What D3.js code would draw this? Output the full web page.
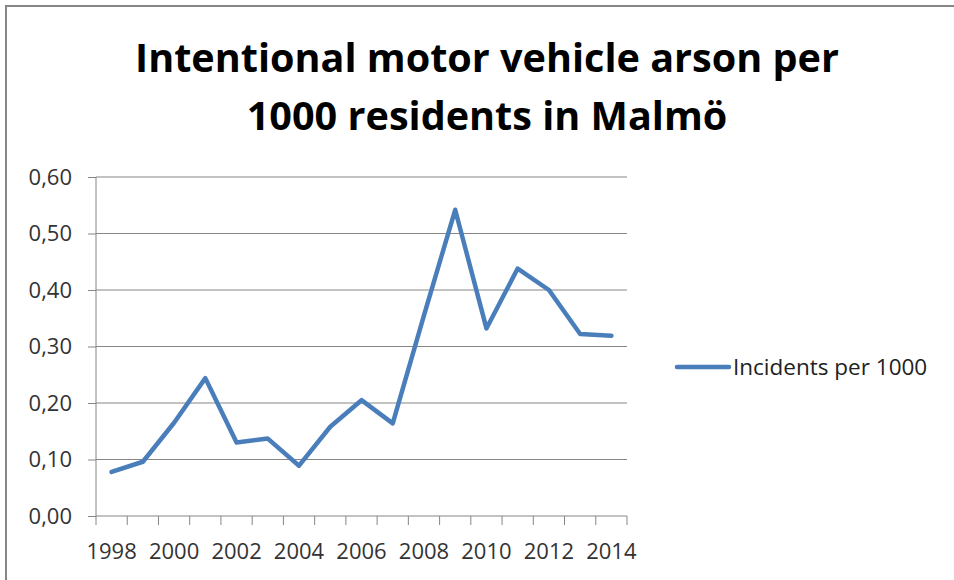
<!DOCTYPE html>
<html>
<head>
<meta charset="utf-8">
<script src="https://cdn.jsdelivr.net/npm/d3@7"></script>
<style>
  body { margin: 0; background: #fff; }
  svg { display: block; }
  text { font-family: "Open Sans", Lato, sans-serif; }
</style>
</head>
<body>
<svg width="954" height="580"></svg>
<script>
// chart data
const years = ["1998","1999","2000","2001","2002","2003","2004","2005","2006",
               "2007","2008","2009","2010","2011","2012","2013","2014"];
const incidents = [0.078, 0.096, 0.165, 0.244, 0.130, 0.137, 0.089, 0.158, 0.205,
                   0.164, 0.355, 0.542, 0.332, 0.438, 0.400, 0.322, 0.319];
const yTicks = [0, 0.1, 0.2, 0.3, 0.4, 0.5, 0.6];
const titleLines = ["Intentional motor vehicle arson per", "1000 residents in Malmö"];
const seriesName = "Incidents per 1000";

const svg = d3.select("svg")
const grey = "#868686"

// outer chart border (only top/left visible in the shot)
svg.append("rect")
  .attr("x", 6).attr("y", 6)
  .attr("width", 1000).attr("height", 1000)
  .attr("fill", "none").attr("stroke", grey).attr("stroke-width", 2)

const plot = {left: 96, right: 627, top: 177, bottom: 516}

let x = d3.scaleBand().domain(years).range([plot.left, plot.right])
let y = d3.scaleLinear().domain([0, 0.6]).range([plot.bottom, plot.top])

// gridlines
svg.append("g").selectAll("line")
  .data(yTicks.filter(d => d > 0))
  .enter().append("line")
    .attr("x1", plot.left).attr("x2", plot.right)
    .attr("y1", d => y(d)).attr("y2", d => y(d))
    .attr("stroke", grey).attr("stroke-width", 1)

// y axis
const yAxis = svg.append("g")
  .attr("transform", `translate(${plot.left},0)`)
  .call(d3.axisLeft(y).tickValues(yTicks).tickSize(8).tickPadding(16)
    .tickFormat(d => d3.format(".2f")(d).replace(".", ",")))
yAxis.select(".domain").attr("stroke", grey).attr("d", `M0,${plot.top}V${plot.bottom}`)
yAxis.selectAll(".tick line").attr("stroke", grey)
yAxis.selectAll("text").attr("fill", "#333").style("font-size", "22px")
  .style("font-family", "'Open Sans', sans-serif")

// x axis: ticks between categories, labels every other year
const xg = svg.append("g").attr("transform", `translate(0,${plot.bottom})`)
xg.append("line").attr("x1", plot.left).attr("x2", plot.right)
  .attr("stroke", grey)
const edges = years.map(d => x(d)).concat([plot.right])
xg.selectAll(".tk").data(edges).enter().append("line")
  .attr("x1", d => d).attr("x2", d => d)
  .attr("y1", 0).attr("y2", 9)
  .attr("stroke", grey)
xg.selectAll(".lbl").data(years.filter((d, i) => i % 2 == 0))
  .enter().append("text")
    .attr("x", d => x(d) + x.bandwidth() / 2)
    .attr("y", 43)
    .attr("text-anchor", "middle")
    .attr("fill", "#333")
    .style("font-size", "22px")
    .text(d => d)

// series line
const line = d3.line()
  .x((d, i) => x(years[i]) + x.bandwidth() / 2)
  .y(d => y(d))
svg.append("path")
  .datum(incidents)
  .attr("d", line)
  .attr("fill", "none")
  .attr("stroke", "#4a7ebb")
  .attr("stroke-width", 4.5)
  .attr("stroke-linejoin", "round")
  .attr("stroke-linecap", "round")

// title
svg.append("g").selectAll("text")
  .data(titleLines)
  .enter().append("text")
    .attr("x", 487)
    .attr("y", (d, i) => 72 + i * 58)
    .attr("text-anchor", "middle")
    .attr("fill", "#000")
    .style("font-size", "39.6px")
    .style("font-weight", "bold")
    .text(d => d)

// legend
svg.append("line")
  .attr("x1", 677).attr("x2", 729)
  .attr("y1", 367).attr("y2", 367)
  .attr("stroke", "#4a7ebb").attr("stroke-width", 4.5)
  .attr("stroke-linecap", "round")
svg.append("text")
  .attr("x", 733).attr("y", 375)
  .attr("fill", "#222")
  .style("font-size", "22.5px")
  .text(seriesName)
</script>
</body>
</html>
